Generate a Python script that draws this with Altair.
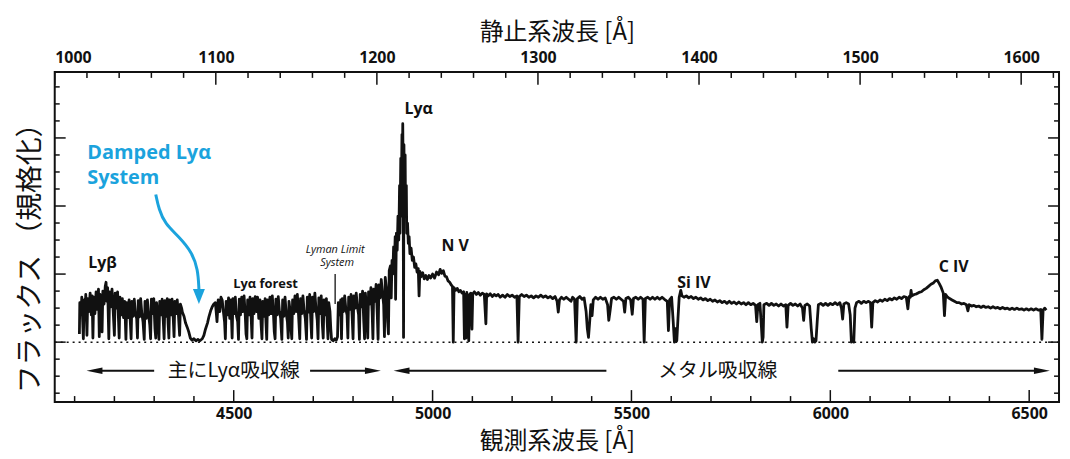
import altair as alt
import pandas as pd

# ---------------- axes / domains ----------------
OBS_DOMAIN = [4050, 6575]       # observed wavelength (bottom axis)
REST_DOMAIN = [1000, 1623.5]    # rest-frame wavelength (top axis)
FLUX_DOMAIN = [-0.88, 3.97]
W, H = 1010, 332

obs_major = [4500, 5000, 5500, 6000, 6500]
obs_minor = [4100, 4200, 4300, 4400, 4600, 4700, 4800, 4900, 5100, 5200, 5300, 5400,
             5600, 5700, 5800, 5900, 6100, 6200, 6300, 6400]
rest_major = [1000, 1100, 1200, 1300, 1400, 1500, 1600]
rest_minor = [1020, 1040, 1060, 1080, 1120, 1140, 1160, 1180, 1220, 1240, 1260, 1280,
              1320, 1340, 1360, 1380, 1420, 1440, 1460, 1480, 1520, 1540, 1560, 1580, 1620]
flux_major = [0, 1, 2, 3]
flux_minor = [-0.75, -0.5, -0.25, 0.25, 0.5, 0.75, 1.25, 1.5, 1.75, 2.25, 2.5, 2.75,
              3.25, 3.5, 3.75]

# ---------------- spectrum (observed wavelength, normalised flux) ----------------
forest_a = [
    (4112, 0.12), (4113, 0.58), (4116, 0.40), (4118, 0.66), (4120, 0.35), (4122, 0.05),
    (4124, 0.62), (4126, 0.40), (4128, 0.70), (4130, 0.30), (4131, 0.10), (4133, 0.64),
    (4136, 0.45), (4139, 0.72), (4142, 0.40), (4144, 0.68), (4146, 0.06), (4148, 0.66),
    (4151, 0.42), (4154, 0.74), (4157, 0.48), (4160, 0.78), (4162, 0.08), (4164, 0.70),
    (4167, 0.50), (4169, 0.15), (4171, 0.75), (4174, 0.56), (4177, 0.82), (4179, 0.88),
    (4181, 0.60), (4183, 0.80), (4186, 0.05), (4188, 0.74), (4191, 0.52), (4194, 0.78),
    (4197, 0.45), (4200, 0.10), (4202, 0.72), (4205, 0.50), (4208, 0.74), (4210, 0.38),
    (4212, 0.06), (4214, 0.66), (4217, 0.40), (4220, 0.64), (4223, 0.36), (4226, 0.60),
    (4229, 0.04), (4231, 0.58), (4234, 0.36), (4237, 0.62), (4240, 0.30), (4242, 0.05),
    (4244, 0.60), (4247, 0.38), (4250, 0.63), (4253, 0.40), (4256, 0.35), (4258, 0.06),
    (4260, 0.61), (4263, 0.37), (4266, 0.64), (4269, 0.42), (4272, 0.30), (4275, 0.04),
    (4277, 0.60), (4280, 0.35), (4283, 0.62), (4286, 0.40), (4289, 0.25), (4291, 0.05),
    (4293, 0.63), (4296, 0.42), (4299, 0.64), (4302, 0.20), (4304, 0.06), (4306, 0.58),
    (4309, 0.40), (4312, 0.04), (4314, 0.60), (4317, 0.40), (4320, 0.63), (4323, 0.30),
    (4325, 0.05), (4327, 0.61), (4330, 0.38), (4333, 0.64), (4335, 0.28), (4337, 0.06),
    (4339, 0.62), (4342, 0.40), (4345, 0.63), (4348, 0.35), (4350, 0.08), (4352, 0.60),
    (4355, 0.42), (4358, 0.62), (4361, 0.40), (4364, 0.10), (4366, 0.56), (4369, 0.50),
]
dla = [
    (4371, 0.44), (4375, 0.38), (4379, 0.28), (4383, 0.22), (4387, 0.15), (4391, 0.06),
    (4395, 0.03), (4400, 0.05), (4405, 0.02), (4410, 0.04), (4415, 0.02), (4421, 0.05),
    (4425, 0.10), (4429, 0.19), (4434, 0.28), (4438, 0.38), (4442, 0.46), (4446, 0.52),
    (4450, 0.56), (4454, 0.58), (4458, 0.30), (4461, 0.62), (4465, 0.45), (4468, 0.66),
    (4471, 0.62),
]
forest_b = [
    (4474, 0.45), (4477, 0.30), (4479, 0.05), (4481, 0.60), (4484, 0.40), (4487, 0.65),
    (4490, 0.35), (4493, 0.62), (4496, 0.06), (4498, 0.64), (4501, 0.42), (4504, 0.66),
    (4507, 0.38), (4510, 0.30), (4512, 0.04), (4514, 0.63), (4517, 0.40), (4520, 0.66),
    (4523, 0.45), (4526, 0.68), (4529, 0.40), (4531, 0.12), (4533, 0.05), (4535, 0.62),
    (4538, 0.40), (4541, 0.66), (4544, 0.35), (4546, 0.06), (4548, 0.64), (4551, 0.42),
    (4554, 0.67), (4557, 0.45), (4560, 0.66), (4563, 0.35), (4566, 0.62), (4569, 0.25),
    (4571, 0.05), (4573, 0.60), (4576, 0.38), (4579, 0.64), (4581, 0.30), (4583, 0.04),
    (4585, 0.62), (4588, 0.40), (4591, 0.66), (4594, 0.42), (4597, 0.68), (4600, 0.40),
    (4602, 0.15), (4604, 0.05), (4606, 0.63), (4609, 0.40), (4612, 0.67), (4615, 0.45),
    (4618, 0.35), (4621, 0.04), (4623, 0.62), (4626, 0.38), (4629, 0.66), (4632, 0.42),
    (4635, 0.30), (4637, 0.06), (4639, 0.60), (4642, 0.45), (4644, 0.20), (4646, 0.05),
    (4648, 0.62), (4651, 0.42), (4654, 0.68), (4657, 0.45), (4660, 0.70), (4663, 0.40),
    (4666, 0.05), (4668, 0.64), (4671, 0.42), (4674, 0.68), (4677, 0.46), (4680, 0.35),
    (4683, 0.04), (4685, 0.66), (4688, 0.44), (4691, 0.70), (4694, 0.30), (4696, 0.06),
    (4698, 0.66), (4701, 0.45), (4704, 0.72), (4707, 0.48), (4710, 0.32), (4712, 0.05),
    (4714, 0.65), (4717, 0.42), (4720, 0.68), (4723, 0.25), (4725, 0.06), (4727, 0.62),
    (4730, 0.40), (4733, 0.64), (4735, 0.30), (4737, 0.05), (4739, 0.58), (4742, 0.45),
    (4744, 0.20),
]
lyman_limit_gap = [(4746, 0.04), (4750, 0.02), (4754, 0.05), (4758, 0.03), (4761, 0.08)]
forest_c = [
    (4763, 0.58), (4766, 0.40), (4769, 0.62), (4771, 0.05), (4773, 0.64), (4776, 0.45),
    (4779, 0.68), (4782, 0.48), (4785, 0.40), (4787, 0.06), (4789, 0.66), (4792, 0.48),
    (4795, 0.70), (4798, 0.35), (4800, 0.05), (4802, 0.68), (4805, 0.50), (4808, 0.72),
    (4811, 0.52), (4814, 0.40), (4816, 0.04), (4818, 0.70), (4821, 0.52), (4824, 0.75),
    (4827, 0.30), (4829, 0.05), (4831, 0.72), (4834, 0.50), (4837, 0.06), (4839, 0.74),
    (4842, 0.56), (4845, 0.80), (4848, 0.45), (4850, 0.05), (4852, 0.78), (4855, 0.60),
    (4858, 0.85), (4861, 0.40), (4863, 0.04), (4865, 0.84), (4868, 0.65), (4871, 0.92),
    (4874, 0.72), (4877, 0.55), (4879, 0.08), (4881, 0.95), (4884, 0.78), (4887, 0.30),
    (4889, 0.12),
]
lya_peak = [
    (4891, 1.05), (4894, 1.12), (4896, 0.65), (4898, 1.20), (4900, 1.00), (4902, 1.40),
    (4904, 1.15), (4906, 1.55), (4907, 0.63), (4909, 1.60), (4911, 1.35), (4913, 1.85),
    (4915, 1.50), (4917, 2.30), (4918, 1.60), (4920, 2.70), (4921, 1.85), (4923, 3.05),
    (4924, 2.30), (4925, 3.21), (4926, 2.50), (4927, 0.07), (4928, 2.90), (4929, 2.30),
    (4931, 2.75), (4932, 1.90), (4934, 2.30), (4935, 1.60), (4937, 1.75), (4939, 1.45),
    (4941, 1.55), (4943, 1.30), (4946, 1.38), (4949, 1.20), (4952, 1.25), (4955, 1.10),
    (4958, 1.15), (4961, 1.03), (4964, 1.08), (4966, 0.68), (4968, 1.04), (4971, 0.96),
    (4975, 1.02), (4979, 0.93), (4983, 0.98), (4987, 0.92), (4991, 0.98),
]
nv_region = [
    (4995, 0.94), (5000, 1.00), (5005, 0.94), (5010, 1.03), (5015, 0.99), (5019, 1.07),
    (5023, 1.01), (5027, 1.05), (5031, 0.97), (5035, 0.96), (5039, 0.90), (5043, 0.88),
    (5047, 0.84), (5050, 0.82), (5052, 0.00), (5054, 0.80), (5058, 0.76), (5062, 0.79),
    (5066, 0.74), (5070, 0.76), (5074, 0.72), (5078, 0.74), (5080, 0.05), (5082, 0.70),
    (5084, 0.06), (5086, 0.73), (5089, 0.30), (5091, 0.02), (5093, 0.70), (5096, 0.72),
    (5099, 0.19), (5101, 0.71), (5105, 0.74), (5110, 0.70), (5115, 0.73), (5120, 0.69),
    (5125, 0.72), (5130, 0.70), (5134, 0.27), (5136, 0.71), (5140, 0.68), (5145, 0.71),
    (5150, 0.67), (5155, 0.70), (5160, 0.68),
]
metal_region = [
    (5165, 0.70), (5170, 0.66), (5176, 0.69), (5182, 0.66), (5188, 0.70), (5194, 0.67),
    (5200, 0.69), (5206, 0.66), (5212, 0.68), (5215, 0.00), (5218, 0.67), (5224, 0.70),
    (5230, 0.67), (5236, 0.69), (5242, 0.66), (5248, 0.68), (5254, 0.65), (5260, 0.68),
    (5266, 0.66), (5272, 0.69), (5278, 0.66), (5284, 0.68), (5290, 0.65), (5296, 0.67),
    (5302, 0.64), (5308, 0.67), (5313, 0.60), (5316, 0.44), (5319, 0.62), (5324, 0.66),
    (5330, 0.63), (5336, 0.66), (5342, 0.63), (5348, 0.60), (5352, 0.66), (5357, 0.63),
    (5361, 0.00), (5364, 0.64), (5370, 0.67), (5376, 0.63), (5381, 0.65), (5386, 0.45),
    (5389, 0.20), (5392, 0.07), (5395, 0.30), (5398, 0.55), (5401, 0.39), (5404, 0.62),
    (5410, 0.66), (5416, 0.63), (5422, 0.66), (5428, 0.63), (5434, 0.65), (5440, 0.55),
    (5443, 0.32), (5446, 0.45), (5450, 0.64), (5456, 0.66), (5462, 0.63), (5468, 0.66),
    (5474, 0.63), (5480, 0.60), (5483, 0.44), (5486, 0.64), (5492, 0.66), (5498, 0.62),
    (5502, 0.41), (5505, 0.64), (5511, 0.66), (5517, 0.63), (5523, 0.66), (5529, 0.63),
    (5532, 0.00), (5535, 0.64), (5541, 0.66), (5547, 0.63), (5553, 0.66), (5559, 0.63),
    (5565, 0.66), (5571, 0.63), (5577, 0.66), (5583, 0.63), (5590, 0.60), (5593, 0.17),
    (5596, 0.62), (5601, 0.66), (5605, 0.30), (5608, 0.00), (5611, 0.20), (5614, 0.02),
    (5617, 0.35), (5620, 0.66), (5624, 0.76), (5627, 0.68), (5632, 0.66), (5638, 0.68),
    (5644, 0.65), (5650, 0.67), (5656, 0.64), (5662, 0.66), (5668, 0.63), (5674, 0.65),
    (5680, 0.62), (5686, 0.64), (5692, 0.61), (5698, 0.63), (5704, 0.60), (5710, 0.62),
    (5716, 0.59), (5722, 0.61), (5728, 0.58), (5734, 0.60), (5740, 0.57), (5746, 0.60),
    (5752, 0.57), (5758, 0.59), (5764, 0.56), (5770, 0.59), (5776, 0.56), (5782, 0.58),
    (5788, 0.55), (5794, 0.58), (5800, 0.55), (5806, 0.57), (5812, 0.54), (5815, 0.30),
    (5818, 0.55), (5823, 0.57), (5827, 0.20), (5829, 0.00), (5831, 0.07), (5833, 0.55),
    (5840, 0.57), (5846, 0.54), (5852, 0.57), (5858, 0.54), (5864, 0.56), (5870, 0.53),
    (5876, 0.56), (5882, 0.53), (5888, 0.55), (5891, 0.22), (5894, 0.54), (5900, 0.57),
    (5906, 0.54), (5912, 0.56), (5918, 0.53), (5924, 0.56), (5930, 0.50), (5933, 0.32),
    (5936, 0.54), (5942, 0.56), (5948, 0.53), (5952, 0.20), (5955, 0.00), (5958, 0.05),
    (5961, 0.00), (5964, 0.02), (5967, 0.30), (5970, 0.55), (5976, 0.57), (5982, 0.54),
    (5988, 0.57), (5994, 0.54), (6000, 0.57), (6006, 0.55), (6012, 0.58), (6018, 0.55),
    (6024, 0.58), (6028, 0.50), (6031, 0.34), (6034, 0.56), (6040, 0.58), (6046, 0.56),
    (6050, 0.40), (6053, 0.00), (6056, 0.05), (6059, 0.00), (6062, 0.50), (6066, 0.58),
    (6072, 0.60), (6078, 0.57), (6084, 0.60), (6090, 0.58), (6096, 0.60), (6101, 0.58),
    (6104, 0.22), (6107, 0.58), (6113, 0.61), (6119, 0.59), (6125, 0.62), (6131, 0.60),
    (6137, 0.63), (6143, 0.61), (6149, 0.64), (6155, 0.62), (6161, 0.65), (6167, 0.63),
    (6173, 0.66), (6179, 0.64), (6185, 0.67), (6191, 0.66), (6195, 0.49), (6198, 0.67),
    (6201, 0.66), (6203, 0.76), (6205, 0.68), (6211, 0.70), (6217, 0.71), (6223, 0.73),
    (6229, 0.74), (6235, 0.77), (6241, 0.79), (6247, 0.82), (6253, 0.85), (6259, 0.87),
    (6264, 0.90), (6269, 0.91), (6274, 0.86), (6279, 0.80), (6284, 0.72), (6287, 0.39),
    (6290, 0.70), (6295, 0.66), (6300, 0.64), (6306, 0.62), (6312, 0.60), (6318, 0.58),
    (6324, 0.58), (6330, 0.56), (6336, 0.57), (6342, 0.55), (6346, 0.46), (6349, 0.55),
    (6355, 0.53), (6361, 0.54), (6367, 0.52), (6373, 0.53), (6379, 0.51), (6385, 0.53),
    (6391, 0.51), (6397, 0.52), (6403, 0.50), (6409, 0.52), (6415, 0.50), (6421, 0.51),
    (6427, 0.49), (6433, 0.51), (6439, 0.49), (6445, 0.50), (6451, 0.48), (6457, 0.50),
    (6463, 0.48), (6469, 0.50), (6475, 0.48), (6481, 0.49), (6487, 0.47), (6493, 0.49),
    (6499, 0.47), (6505, 0.49), (6511, 0.47), (6517, 0.49), (6523, 0.47), (6529, 0.48),
    (6532, 0.04), (6535, 0.47), (6539, 0.50), (6543, 0.47),
]

# ---------------- annotations ----------------
line_labels = ["Lyα", "N V", "Si IV", "C IV", "Lyβ"]
line_label_obs = [4965, 5057, 5657, 6310, 4170]
line_label_flux = [3.43, 1.41, 0.87, 1.11, 1.16]

forest_label = ["Lyα  forest"]
forest_label_obs = [4580]
forest_label_flux = [0.85]

lls_labels = ["Lyman Limit", "System"]
lls_label_obs = [4755, 4760]
lls_label_flux = [1.35, 1.16]
lls_marker_obs = [4755]
lls_marker_flux = [0.56, 1.0]

dla_labels = ["Damped Lyα", "System"]
dla_label_obs = [4132, 4132]
dla_label_flux = [2.78, 2.41]
dla_arrow_obs = [4304, 4312, 4327, 4362, 4395, 4410, 4412.5]
dla_arrow_flux = [2.17, 1.95, 1.74, 1.55, 1.32, 1.07, 0.78]
dla_head_obs = [4412.5]
dla_head_flux = [0.67]

range_labels = ["主にLyα吸収線", "メタル吸収線"]
range_label_obs = [4500, 5717]
range_label_flux = [-0.43, -0.43]
range_arrow_start = [4150, 4692, 4922, 6020]
range_arrow_end = [4300, 4850, 5437, 6532]
range_head_obs = [4150, 4850, 4922, 6532]
range_head_dir = ["left", "right", "left", "right"]
range_arrow_flux = -0.42

BLUE = "#1ba3dd"
INK = "#111111"
LATIN = "Open Sans"
CJK = "Noto Sans CJK JP"

# ---------------- build ----------------
spec_pts = forest_a + dla + forest_b + lyman_limit_gap + forest_c + lya_peak + nv_region + metal_region
spec = pd.DataFrame(spec_pts, columns=["obs", "flux"])

obs_scale = alt.Scale(domain=OBS_DOMAIN, nice=False, zero=False)
rest_scale = alt.Scale(domain=REST_DOMAIN, nice=False, zero=False)
flux_scale = alt.Scale(domain=FLUX_DOMAIN, nice=False, zero=False)

y_axis = alt.Axis(title="フラックス （規格化）", labels=False, ticks=False, domain=False,
                  grid=False, titleFont=CJK, titleFontSize=28, titleFontWeight="normal",
                  titleColor=INK, titlePadding=10, titleY=180)


def X(field):
    return alt.X(field, type="quantitative", scale=obs_scale, axis=None)


def Y(field):
    return alt.Y(field, type="quantitative", scale=flux_scale, axis=y_axis)


spectrum = alt.Chart(spec).mark_line(color=INK, strokeWidth=2.8, strokeJoin="round", clip=True).encode(
    x=X("obs"), y=Y("flux"))

zero_line = alt.Chart(pd.DataFrame({"flux": [0]})).mark_rule(
    color=INK, strokeDash=[2, 4], strokeWidth=1.5).encode(y=Y("flux"))

lls_marker = alt.Chart(pd.DataFrame({"obs": lls_marker_obs, "f1": [lls_marker_flux[0]],
                                     "f2": [lls_marker_flux[1]]})).mark_rule(
    color=INK, strokeWidth=1.3).encode(x=X("obs"), y=Y("f1"), y2="f2")

# ticks (pointing inward)
bottom_major = alt.Chart(pd.DataFrame({"obs": obs_major})).mark_rule(color=INK, strokeWidth=1.5).encode(
    x=alt.X("obs:Q", scale=obs_scale,
            axis=alt.Axis(orient="bottom", values=obs_major, format="d", ticks=False, domain=False,
                          grid=False, labelFont=LATIN, labelFontSize=16, labelFontWeight="bold",
                          labelColor=INK, labelPadding=4, title="観測系波長 [Å]", titleFont=CJK,
                          titleFontSize=24, titleFontWeight="normal", titleColor=INK, titlePadding=8)),
    y=alt.value(H), y2=alt.value(H - 12))
bottom_minor = alt.Chart(pd.DataFrame({"obs": obs_minor})).mark_rule(color=INK, strokeWidth=1.5).encode(
    x=X("obs"), y=alt.value(H), y2=alt.value(H - 6))

top_major = alt.Chart(pd.DataFrame({"rest": rest_major})).mark_rule(color=INK, strokeWidth=1.5).encode(
    x=alt.X("rest:Q", scale=rest_scale,
            axis=alt.Axis(orient="top", values=rest_major, format="d", ticks=False, domain=False,
                          grid=False, labelFont=LATIN, labelFontSize=16, labelFontWeight="bold",
                          labelColor=INK, labelPadding=6, title="静止系波長 [Å]", titleFont=CJK,
                          titleFontSize=24, titleFontWeight="normal", titleColor=INK, titlePadding=6)),
    y=alt.value(0), y2=alt.value(13))
top_minor = alt.Chart(pd.DataFrame({"rest": rest_minor})).mark_rule(color=INK, strokeWidth=1.5).encode(
    x=alt.X("rest:Q", scale=rest_scale, axis=None), y=alt.value(0), y2=alt.value(6))

left_major = alt.Chart(pd.DataFrame({"flux": flux_major})).mark_rule(color=INK, strokeWidth=1.5).encode(
    y=Y("flux"), x=alt.value(0), x2=alt.value(11))
left_minor = alt.Chart(pd.DataFrame({"flux": flux_minor})).mark_rule(color=INK, strokeWidth=1.5).encode(
    y=Y("flux"), x=alt.value(0), x2=alt.value(5))
right_major = alt.Chart(pd.DataFrame({"flux": flux_major})).mark_rule(color=INK, strokeWidth=1.5).encode(
    y=Y("flux"), x=alt.value(W), x2=alt.value(W - 11))
right_minor = alt.Chart(pd.DataFrame({"flux": flux_minor})).mark_rule(color=INK, strokeWidth=1.5).encode(
    y=Y("flux"), x=alt.value(W), x2=alt.value(W - 5))

# text annotations
t_lines = alt.Chart(pd.DataFrame({"obs": line_label_obs, "flux": line_label_flux, "t": line_labels})).mark_text(
    font=LATIN, fontSize=16, fontWeight="bold", color=INK, align="center", baseline="middle").encode(
    x=X("obs"), y=Y("flux"), text="t:N")
t_forest = alt.Chart(pd.DataFrame({"obs": forest_label_obs, "flux": forest_label_flux, "t": forest_label})).mark_text(
    font=LATIN, fontSize=13, fontWeight="bold", color=INK, align="center", baseline="middle").encode(
    x=X("obs"), y=Y("flux"), text="t:N")
t_lls = alt.Chart(pd.DataFrame({"obs": lls_label_obs, "flux": lls_label_flux, "t": lls_labels})).mark_text(
    font=LATIN, fontSize=11, fontStyle="italic", color=INK, align="center", baseline="middle").encode(
    x=X("obs"), y=Y("flux"), text="t:N")
t_dla = alt.Chart(pd.DataFrame({"obs": dla_label_obs, "flux": dla_label_flux, "t": dla_labels})).mark_text(
    font=LATIN, fontSize=20, fontWeight="bold", color=BLUE, align="left", baseline="middle").encode(
    x=X("obs"), y=Y("flux"), text="t:N")
dla_arrow = alt.Chart(pd.DataFrame({"obs": dla_arrow_obs, "flux": dla_arrow_flux,
                                    "i": list(range(len(dla_arrow_obs)))})).mark_line(
    color=BLUE, strokeWidth=3, interpolate="basis").encode(x=X("obs"), y=Y("flux"), order="i:Q")
dla_head = alt.Chart(pd.DataFrame({"obs": dla_head_obs, "flux": dla_head_flux})).mark_point(
    shape="M-0.8,-1L0.8,-1L0,1Z", filled=True, color=BLUE, opacity=1, size=225).encode(
    x=X("obs"), y=Y("flux"))

t_range = alt.Chart(pd.DataFrame({"obs": range_label_obs, "flux": range_label_flux, "t": range_labels})).mark_text(
    font=CJK, fontSize=20, color=INK, align="center", baseline="middle").encode(
    x=X("obs"), y=Y("flux"), text="t:N")
range_lines = alt.Chart(pd.DataFrame({"a": range_arrow_start, "b": range_arrow_end,
                                      "flux": [range_arrow_flux] * len(range_arrow_start)})).mark_rule(
    color=INK, strokeWidth=2).encode(x=X("a"), x2="b", y=Y("flux"))
head_df = pd.DataFrame({"obs": range_head_obs, "dir": range_head_dir,
                        "flux": [range_arrow_flux] * len(range_head_obs)})
heads_left = alt.Chart(head_df[head_df["dir"] == "left"]).mark_point(
    shape="M-1,0L1,-0.42L1,0.42Z", filled=True, color=INK, opacity=1, size=256).encode(
    x=X("obs"), y=Y("flux"))
heads_right = alt.Chart(head_df[head_df["dir"] == "right"]).mark_point(
    shape="M1,0L-1,-0.42L-1,0.42Z", filled=True, color=INK, opacity=1, size=256).encode(
    x=X("obs"), y=Y("flux"))

chart = alt.layer(
    spectrum, zero_line, lls_marker,
    bottom_major, bottom_minor, top_major, top_minor,
    left_major, left_minor, right_major, right_minor,
    t_lines, t_forest, t_lls, t_dla, dla_arrow, dla_head,
    t_range, range_lines, heads_left, heads_right,
).resolve_scale(x="independent").properties(
    width=W, height=H,
    autosize=alt.AutoSizeParams(type="none"),
    padding={"left": 47, "top": 63, "right": 3, "bottom": 55},
).configure_view(stroke=INK, strokeWidth=2).configure_axis(grid=False)

chart.save("out.html", embed_options={"renderer": "svg", "actions": False})
